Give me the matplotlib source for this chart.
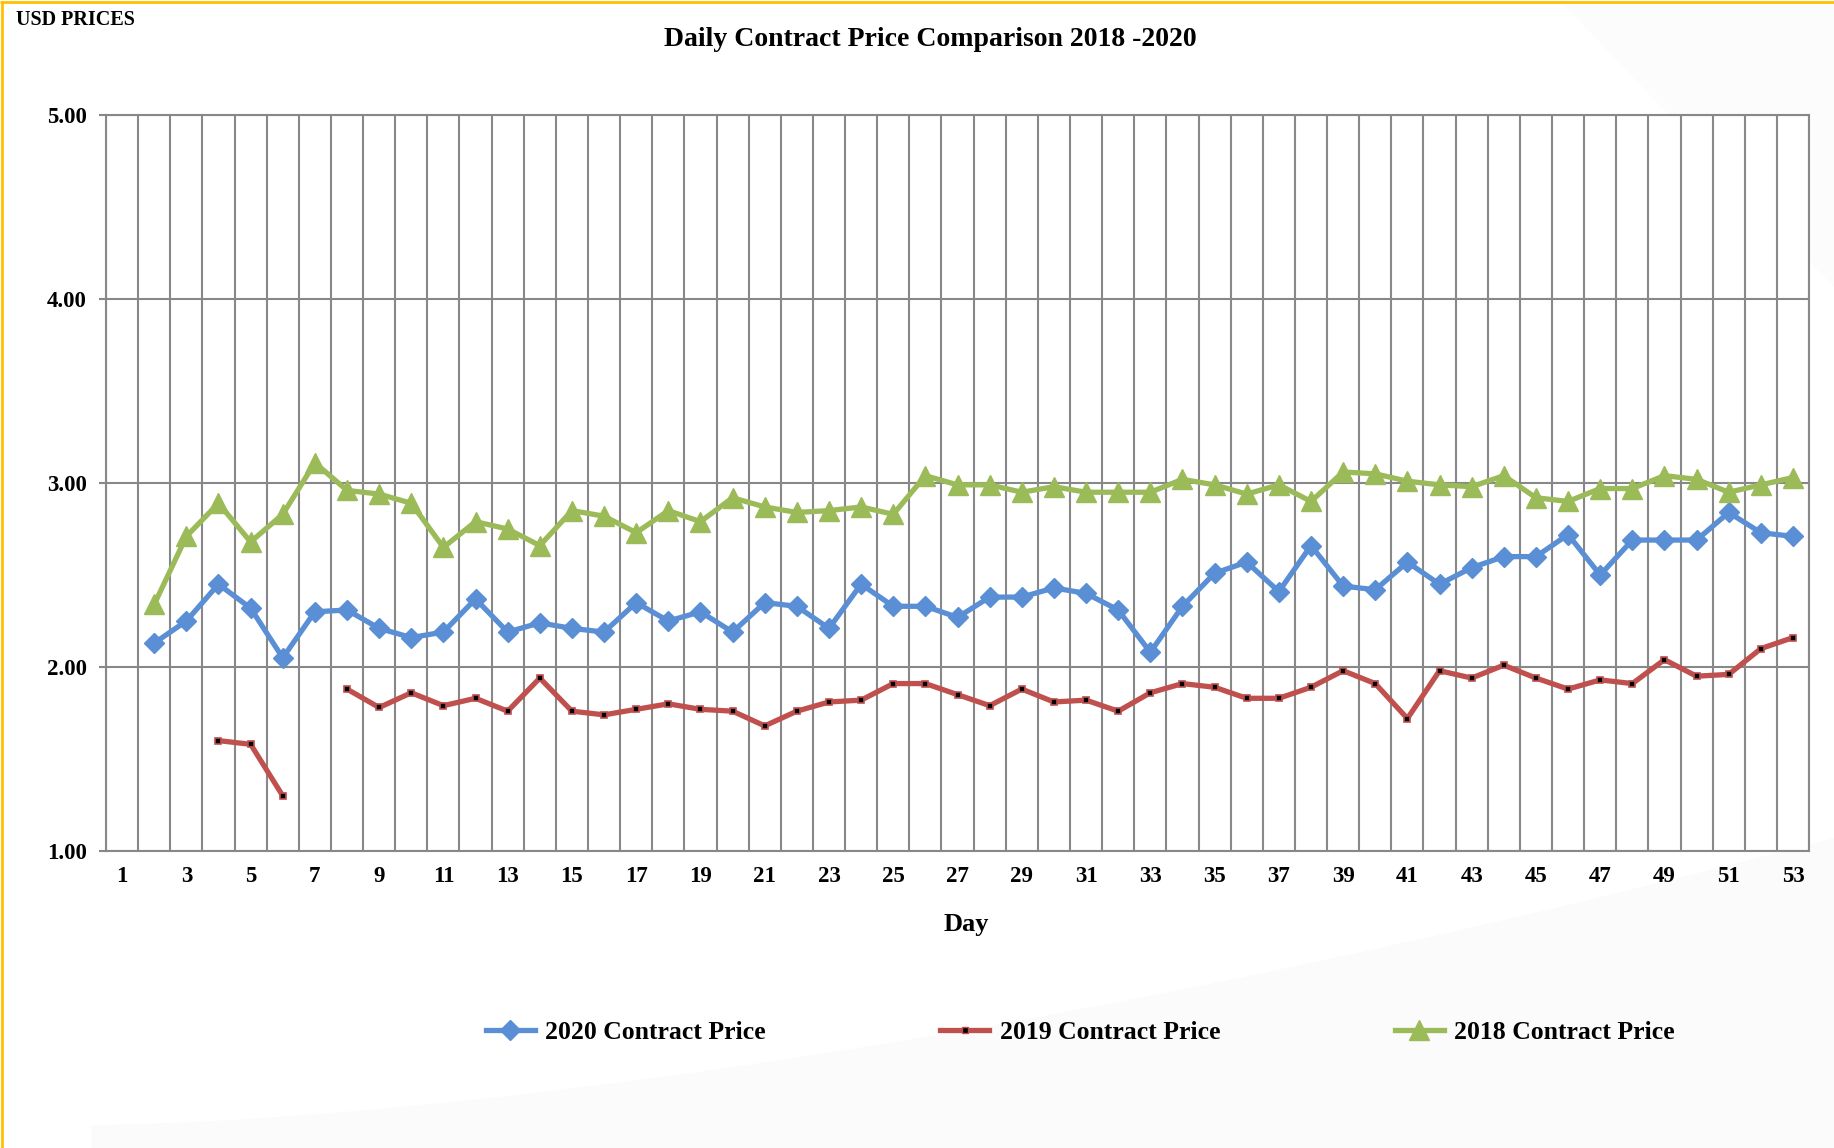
import numpy as np
import matplotlib
matplotlib.use("Agg")
import matplotlib.pyplot as plt
from matplotlib.lines import Line2D
from matplotlib.patches import Polygon

days = list(range(1, 54))
day_ticks = list(range(1, 54, 2))

price_2020 = [None, 2.13, 2.25, 2.45, 2.32, 2.05, 2.30, 2.31, 2.21, 2.16,
              2.19, 2.37, 2.19, 2.24, 2.21, 2.19, 2.35, 2.25, 2.30, 2.19,
              2.35, 2.33, 2.21, 2.45, 2.33, 2.33, 2.27, 2.38, 2.38, 2.43,
              2.40, 2.31, 2.08, 2.33, 2.51, 2.57, 2.41, 2.66, 2.44, 2.42,
              2.57, 2.45, 2.54, 2.60, 2.60, 2.72, 2.50, 2.69, 2.69, 2.69,
              2.84, 2.73, 2.71]
price_2019 = [None, None, None, 1.60, 1.58, 1.30, None, 1.88, 1.78, 1.86,
              1.79, 1.83, 1.76, 1.94, 1.76, 1.74, 1.77, 1.80, 1.77, 1.76,
              1.68, 1.76, 1.81, 1.82, 1.91, 1.91, 1.85, 1.79, 1.88, 1.81,
              1.82, 1.76, 1.86, 1.91, 1.89, 1.83, 1.83, 1.89, 1.98, 1.91,
              1.72, 1.98, 1.94, 2.01, 1.94, 1.88, 1.93, 1.91, 2.04, 1.95,
              1.96, 2.10, 2.16]
price_2018 = [None, 2.34, 2.71, 2.89, 2.68, 2.83, 3.11, 2.96, 2.94, 2.89,
              2.65, 2.79, 2.75, 2.66, 2.85, 2.82, 2.73, 2.85, 2.79, 2.92,
              2.87, 2.84, 2.85, 2.87, 2.83, 3.04, 2.99, 2.99, 2.95, 2.98,
              2.95, 2.95, 2.95, 3.02, 2.99, 2.94, 2.99, 2.90, 3.06, 3.05,
              3.01, 2.99, 2.98, 3.04, 2.92, 2.90, 2.97, 2.97, 3.04, 3.02,
              2.95, 2.99, 3.03]
y_ticks = [1.0, 2.0, 3.0, 4.0, 5.0]

def arr(v):
    return np.array([np.nan if x is None else x for x in v], dtype=float)

BLUE = "#5A8FD6"
RED = "#C0504D"
GREEN = "#9BBB59"
GRID = "#888888"
FONT = ["Liberation Serif", "DejaVu Serif"]

fig = plt.figure(figsize=(18.34, 11.48), dpi=100)
fig.patch.set_facecolor("white")

# faint background swoosh
bg = fig.add_axes([0, 0, 1, 1], zorder=-10)
bg.set_xlim(0, 1); bg.set_ylim(0, 1); bg.axis("off")
t = np.linspace(0, 1, 200)
xs = 0.05 + 0.95 * t
ys = 0.02 + 0.25 * t ** 1.6
poly = np.vstack([np.column_stack([xs, ys]), [[1, 0], [0.05, 0]]])
bg.add_patch(Polygon(poly, closed=True, facecolor="#FBFBFB", edgecolor="none"))
poly2 = [[0.85, 1.0], [1.0, 1.0], [1.0, 0.75]]
bg.add_patch(Polygon(poly2, closed=True, facecolor="#FCFCFC", edgecolor="none"))
# gold border top & left
bg.plot([0.001, 0.001], [0, 0.999], color="#FFC000", lw=2.0, solid_capstyle="butt")
bg.plot([0.0, 1.0], [0.998, 0.998], color="#FFC000", lw=2.0, solid_capstyle="butt")

ax = fig.add_axes([0.0578, 0.2587, 0.9286, 0.6411])
ax.set_facecolor("white")
x = np.array(days)

ax.plot(x, arr(price_2020), color=BLUE, lw=3.8, marker="D", ms=10,
        mfc=BLUE, mec=BLUE, zorder=4, label="2020 Contract Price")
ax.plot(x, arr(price_2019), color=RED, lw=3.8, marker="s", ms=5,
        mfc="black", mec=RED, mew=1.2, zorder=3, label="2019 Contract Price")
ax.plot(x, arr(price_2018), color=GREEN, lw=3.8, marker="^", ms=14,
        mfc=GREEN, mec=GREEN, zorder=5, label="2018 Contract Price")

ax.set_xlim(0.5, 53.5)
ax.set_ylim(1.0, 5.0)
ax.set_xticks(day_ticks)
ax.set_xticklabels([str(d) for d in day_ticks])
ax.set_xticks(np.arange(0.5, 54.0, 1.0), minor=True)
ax.set_yticks(y_ticks)
ax.set_yticklabels([f"{v:.2f}" for v in y_ticks])

ax.grid(False)
for xv in np.arange(0.5, 54.0, 1.0):
    ax.axvline(xv, color=GRID, lw=1.5, zorder=1)
for yv in y_ticks:
    ax.axhline(yv, color=GRID, lw=1.5, zorder=1)

for s in ax.spines.values():
    s.set_color(GRID)
    s.set_linewidth(1.5)

ax.tick_params(axis="x", which="major", length=0, pad=11)
ax.tick_params(axis="x", which="minor", length=0)
ax.tick_params(axis="y", which="major", length=5, width=1.5, color=GRID, pad=9)

for lab in ax.get_xticklabels() + ax.get_yticklabels():
    lab.set_fontfamily(FONT)
    lab.set_fontweight("bold")
    lab.set_fontsize(16.5)

fig.text(0.507, 0.966, "Daily Contract Price Comparison 2018 -2020", ha="center",
         va="center", fontsize=20, fontweight="bold", family=FONT)
fig.text(0.0085, 0.983, "USD PRICES", ha="left", va="center", fontsize=14.5,
         fontweight="bold", family=FONT)
fig.text(0.527, 0.195, "Day", ha="center", va="center", fontsize=19,
         fontweight="bold", family=FONT)

handles = [
    Line2D([], [], color=BLUE, lw=3.8, marker="D", ms=10, mfc=BLUE, mec=BLUE),
    Line2D([], [], color=RED, lw=3.8, marker="s", ms=5, mfc="black", mec=RED),
    Line2D([], [], color=GREEN, lw=3.8, marker="^", ms=14, mfc=GREEN, mec=GREEN),
]
labels = ["2020 Contract Price", "2019 Contract Price", "2018 Contract Price"]
leg = fig.legend(handles, labels, loc="center", bbox_to_anchor=(0.589, 0.101),
                 ncol=3, frameon=False, columnspacing=6.8, handlelength=1.9,
                 handletextpad=0.4, prop={"family": FONT, "weight": "bold", "size": 18.5})

fig.savefig("out.png", dpi=100)
